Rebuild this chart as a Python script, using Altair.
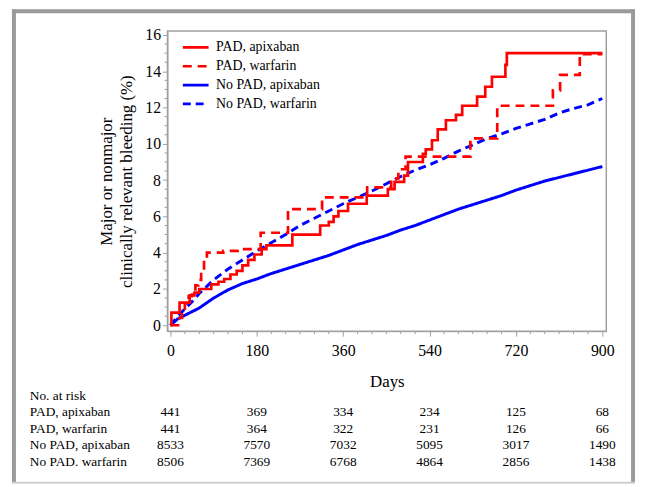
import altair as alt
import pandas as pd

SERIF = "Liberation Serif, Times New Roman, serif"

series_names = ["PAD, apixaban", "PAD, warfarin", "No PAD, apixaban", "No PAD, warfarin"]
series_colors = ["#ff0000", "#ff0000", "#0000ff", "#0000ff"]
series_dashes = [[1, 0], [9, 6], [1, 0], [8, 5]]

# PAD, apixaban (step function change points)
pa_days = [0, 2, 19, 40, 50, 60, 85, 100, 112, 125, 138, 150, 162, 175, 190, 200, 254, 312, 330, 340,
           350, 370, 409, 453, 467, 487, 495, 526, 532, 545, 557, 574, 595, 608, 639, 656, 670, 698, 701, 900]
pa_vals = [0, 0.7, 1.25, 1.65, 1.8, 2.0, 2.25, 2.4, 2.55, 2.8, 3.0, 3.3, 3.6, 3.9, 4.2, 4.4, 5.0, 5.5, 5.7, 6.0,
           6.3, 6.7, 7.15, 7.5, 7.9, 8.25, 9.0, 9.45, 9.7, 10.2, 10.8, 11.3, 11.6, 12.1, 12.6, 13.15, 13.7, 14.35, 15.0, 15.0]

# PAD, warfarin (step function change points)
pw_days = [0, 19, 24, 30, 38, 45, 52, 58, 64, 70, 76, 110, 140, 188, 245, 316, 410, 460, 475, 490,
           625, 681, 797, 812, 853, 900]
pw_vals = [0, 0.4, 0.8, 1.2, 1.6, 1.9, 2.2, 2.5, 3.0, 3.6, 4.0, 4.1, 4.2, 5.1, 6.4, 7.05, 7.6, 8.1, 8.6, 9.3,
           10.3, 12.1, 12.95, 13.8, 14.95, 14.95]

# No PAD, apixaban
na_days = [0, 15, 30, 45, 60, 90, 120, 150, 180, 210, 240, 270, 300, 330, 360, 390, 420, 450, 480, 510,
           540, 570, 600, 630, 660, 690, 720, 750, 780, 810, 840, 870, 900]
na_vals = [0, 0.35, 0.55, 0.75, 0.95, 1.5, 1.95, 2.3, 2.55, 2.85, 3.1, 3.35, 3.6, 3.85, 4.15, 4.45, 4.7, 4.95, 5.25, 5.5,
           5.8, 6.1, 6.4, 6.65, 6.9, 7.15, 7.45, 7.7, 7.95, 8.15, 8.35, 8.55, 8.75]

# No PAD, warfarin
nw_days = [0, 15, 30, 45, 60, 90, 120, 150, 180, 210, 240, 270, 300, 330, 360, 390, 420, 450, 480, 510,
           540, 570, 600, 630, 660, 690, 720, 750, 780, 810, 840, 870, 900]
nw_vals = [0, 0.5, 0.9, 1.3, 1.75, 2.5, 3.1, 3.6, 4.1, 4.55, 5.0, 5.5, 5.9, 6.3, 6.7, 7.05, 7.4, 7.8, 8.2, 8.55,
           8.85, 9.2, 9.6, 9.95, 10.3, 10.55, 10.85, 11.1, 11.35, 11.7, 11.95, 12.15, 12.5]

# Number at risk table
risk_times = [0, 180, 360, 540, 720, 900]
risk_rows = ["No. at risk", "PAD, apixaban", "PAD, warfarin", "No PAD, apixaban", "No PAD. warfarin"]
risk_pa = [441, 369, 334, 234, 125, 68]
risk_pw = [441, 364, 322, 231, 126, 66]
risk_na = [8533, 7570, 7032, 5095, 3017, 1490]
risk_nw = [8506, 7369, 6768, 4864, 2856, 1438]

x_ticks = [0, 180, 360, 540, 720, 900]
y_ticks = [0, 2, 4, 6, 8, 10, 12, 14, 16]
x_minor = [d for d in range(30, 900, 30) if d % 180 != 0]
y_minor = [v / 2 for v in range(1, 32) if v % 4 != 0]

# ---- tables ----
def frame(name, days, vals):
    return pd.DataFrame({"series": name, "day": days, "val": vals})

df_red = pd.concat([frame(series_names[0], pa_days, pa_vals), frame(series_names[1], pw_days, pw_vals)])
df_blue = pd.concat([frame(series_names[2], na_days, na_vals), frame(series_names[3], nw_days, nw_vals)])

risk_records = []
for row, counts in zip(risk_rows[1:], [risk_pa, risk_pw, risk_na, risk_nw]):
    for t, c in zip(risk_times, counts):
        risk_records.append({"row": row, "day": t, "n": str(c)})
df_risk = pd.DataFrame(risk_records)
df_rowlab = pd.DataFrame({"row": risk_rows})
df_xminor = pd.DataFrame({"day": x_minor})
df_yminor = pd.DataFrame({"val": y_minor})
one = pd.DataFrame({"k": [0]})

x_scale = alt.Scale(domain=[-6.19, 908.26], nice=False, zero=False)
y_scale = alt.Scale(domain=[-0.3276, 16.218], nice=False, zero=False)
AX = "#a0a0a0"

x_axis = alt.Axis(values=x_ticks, title="Days", grid=False, tickSize=5, tickColor=AX, domainColor=AX,
                  labelFont=SERIF, labelFontSize=16, labelPadding=7, labelColor="black",
                  titleFont=SERIF, titleFontSize=17, titleFontWeight="normal", titleColor="black",
                  titlePadding=15)
y_axis = alt.Axis(values=y_ticks, title=["Major or nonmajor", "clinically relevant bleeding (%)"],
                  grid=False, tickSize=5, tickColor=AX, domainColor=AX,
                  labelFont=SERIF, labelFontSize=16, labelPadding=2, labelColor="black",
                  titleFont=SERIF, titleFontSize=17, titleFontWeight="normal", titleColor="black",
                  titleLineHeight=21, titlePadding=9)

leg = alt.Legend(orient="none", legendX=20.5, legendY=8.5, title=None, padding=0,
                 symbolType="M-2,0H2", symbolSize=169, symbolStrokeWidth=2.7,
                 labelOffset=12.5, labelFont=SERIF, labelFontSize=14, labelColor="black",
                 rowPadding=4)
color = alt.Color("series:N", scale=alt.Scale(domain=series_names, range=series_colors),
                  sort=series_names, legend=leg)
dash = alt.StrokeDash("series:N", scale=alt.Scale(domain=series_names, range=series_dashes),
                      sort=series_names, legend=leg)

X = alt.X("day:Q", scale=x_scale, axis=x_axis)
Y = alt.Y("val:Q", scale=y_scale, axis=y_axis)

red = alt.Chart(df_red).mark_line(interpolate="step-after", strokeWidth=2.7).encode(
    x=X, y=Y, color=color, strokeDash=dash)
blue = alt.Chart(df_blue).mark_line(strokeWidth=3).encode(
    x=X, y=Y, color=color, strokeDash=dash)
xminor = alt.Chart(df_xminor).mark_rule(color=AX, strokeWidth=1).encode(
    x=X, y=alt.value(303), y2=alt.value(306))
yminor = alt.Chart(df_yminor).mark_rule(color=AX, strokeWidth=1).encode(
    y=Y, x=alt.value(0), x2=alt.value(-3))

main = alt.layer(xminor, yminor, blue, red)

row_scale = alt.Scale(type="point", domain=risk_rows, range=[368, 435], padding=0)
risk_text = alt.Chart(df_risk).mark_text(font=SERIF, fontSize=13.5, baseline="middle", align="center",
                                         color="black").encode(
    x=X, y=alt.Y("row:N", scale=row_scale, axis=None), text="n:N")
row_text = alt.Chart(df_rowlab).mark_text(font=SERIF, fontSize=13.5, baseline="middle", align="left",
                                          color="black").encode(
    x=alt.value(-139), y=alt.Y("row:N", scale=row_scale, axis=None), text="row:N")

BORDER = "#9a9a9a"
b_left = alt.Chart(one).mark_rule(color=BORDER, strokeWidth=4).encode(
    x=alt.value(-155), y=alt.value(-22), y2=alt.value(456))
b_top = alt.Chart(one).mark_rule(color=BORDER, strokeWidth=4).encode(
    y=alt.value(-20), x=alt.value(-157), x2=alt.value(472))
b_right = alt.Chart(one).mark_rule(color=BORDER, strokeWidth=4).encode(
    x=alt.value(470), y=alt.value(-22), y2=alt.value(456))
b_bottom = alt.Chart(one).mark_rule(color="#cfcfcf", strokeWidth=2).encode(
    y=alt.value(456), x=alt.value(-157), x2=alt.value(472))

table = alt.layer(risk_text, row_text, b_left, b_top, b_right, b_bottom)

chart = alt.layer(main, table).resolve_scale(y="independent").properties(
    width=443, height=303,
    autosize=alt.AutoSizeParams(type="none"),
    padding={"left": 161, "top": 21, "right": 31, "bottom": 155},
    background="white",
).configure(font=SERIF).configure_view(stroke=AX, strokeWidth=1.5).configure_legend(
    labelFont=SERIF).configure_text(font=SERIF)

chart.save("out.html", embed_options={"renderer": "svg", "actions": False})
